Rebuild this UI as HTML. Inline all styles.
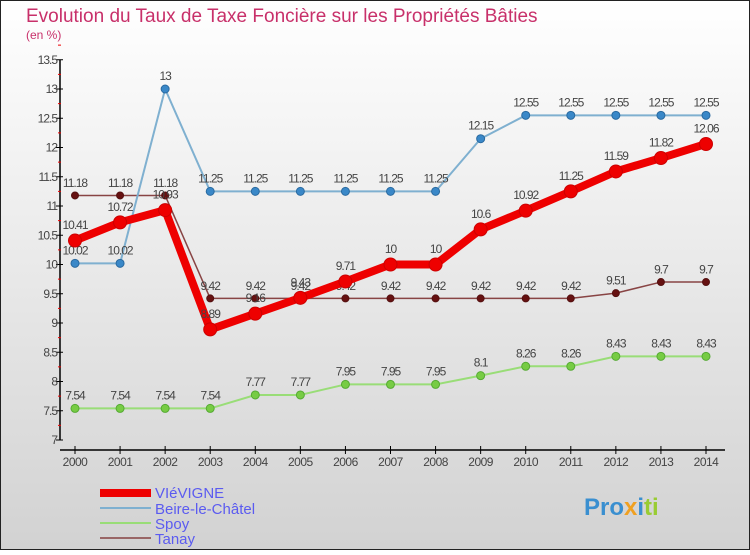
<!DOCTYPE html>
<html><head><meta charset="utf-8"><style>
body{margin:0;width:750px;height:550px;overflow:hidden;font-family:"Liberation Sans",sans-serif}
svg text{font-family:"Liberation Sans",sans-serif}
</style></head><body>
<svg id="c" width="750" height="550" xmlns="http://www.w3.org/2000/svg">
<defs><linearGradient id="bg" x1="0" y1="0" x2="0" y2="1"><stop offset="0" stop-color="#ffffff"/><stop offset="1" stop-color="#d2d2d2"/></linearGradient></defs>
<rect x="0.5" y="0.5" width="749" height="549" fill="url(#bg)" stroke="#222"/>
<text x="26" y="22" font-size="19" fill="#c8306a">Evolution du Taux de Taxe Foncière sur les Propriétés Bâties</text>
<text x="26" y="39" font-size="12" fill="#c8306a">(en %)</text>
<g id="axes"></g><g id="series"></g>
<g>
<rect x="100" y="489" width="51" height="8" fill="#e00"/>
<text x="155" y="498" font-size="15" fill="#5b5bf0">VIéVIGNE</text>
<rect x="100" y="507" width="51" height="2" fill="#7fb0d0"/>
<text x="155" y="514" font-size="15" fill="#5b5bf0">Beire-le-Châtel</text>
<rect x="100" y="522" width="51" height="2" fill="#99dd77"/>
<text x="155" y="529" font-size="15" fill="#5b5bf0">Spoy</text>
<rect x="100" y="537" width="51" height="2" fill="#996666"/>
<text x="155" y="544" font-size="15" fill="#5b5bf0">Tanay</text>
</g>
<text x="584" y="515" font-size="24" font-weight="bold"><tspan fill="#3a8fd0">Pro</tspan><tspan fill="#f0a020">x</tspan><tspan fill="#3a8fd0">i</tspan><tspan fill="#9c3">ti</tspan></text>
</svg>
<script>
const years=[2000,2001,2002,2003,2004,2005,2006,2007,2008,2009,2010,2011,2012,2013,2014];
const vievigne=[10.41,10.72,10.93,8.89,9.16,9.43,9.71,10,10,10.6,10.92,11.25,11.59,11.82,12.06];
const beire=[10.02,10.02,13,11.25,11.25,11.25,11.25,11.25,11.25,12.15,12.55,12.55,12.55,12.55,12.55];
const spoy=[7.54,7.54,7.54,7.54,7.77,7.77,7.95,7.95,7.95,8.1,8.26,8.26,8.43,8.43,8.43];
const tanay=[11.18,11.18,11.18,9.42,9.42,9.42,9.42,9.42,9.42,9.42,9.42,9.42,9.51,9.7,9.7];
const yTicks=[7,7.5,8,8.5,9,9.5,10,10.5,11,11.5,12,12.5,13,13.5];
const NS="http://www.w3.org/2000/svg";
function X(i){return 75+i*(706-75)/(years.length-1);}
function Y(v){return 440-(v-7)*58.5;}
function mk(t,a,p){const e=document.createElementNS(NS,t);for(const k in a)e.setAttribute(k,a[k]);p.appendChild(e);return e;}
const ax=document.getElementById('axes');
let l=mk('line',{x1:60,y1:Y(13.5),x2:60,y2:Y(7),stroke:'#000','stroke-width':1.5},ax);


yTicks.forEach(v=>{
 let t=mk('line',{x1:56,y1:Y(v),x2:63,y2:Y(v),stroke:'#000'},ax);
 
 
 let m=mk('line',{x1:58,y1:Y(v+0.25),x2:61,y2:Y(v+0.25),stroke:'#e00'},ax);
 
 
 let tx=mk('text',{x:57,y:Y(v)+4,'font-size':12,'text-anchor':'end',fill:'#444','letter-spacing':'-1'},ax);
 tx.textContent=String(v);
 
 
});
let xl=mk('line',{x1:60,y1:450,x2:725,y2:450,stroke:'#000','stroke-width':1.5},ax);


years.forEach((y,i)=>{
 let t=mk('line',{x1:X(i),y1:446,x2:X(i),y2:454,stroke:'#000'},ax);
 
 
 let tx=mk('text',{x:X(i),y:466,'font-size':12,'text-anchor':'middle',fill:'#444','letter-spacing':'-0.5'},ax);
 tx.textContent=String(y);
 
 
});
const sg=document.getElementById('series');
function series(name,data,color,lw,r,dot,stroke){
 const g=mk('g',{},sg);
 
 
 const p=mk('polyline',{points:data.map((v,i)=>X(i)+','+Y(v)).join(' '),fill:'none',stroke:color,'stroke-width':lw,'stroke-linejoin':'round'},g);
 
 
 data.forEach((v,i)=>{
  const c=mk('circle',{cx:X(i),cy:Y(v),r:r,fill:dot,stroke:stroke,'stroke-width':1},g);
  
  
  const t=mk('text',{x:X(i),y:Y(v)-(r+5),'font-size':12,'text-anchor':'middle',fill:'#444','letter-spacing':'-1'},g);
  t.textContent=String(v);
  
  
 });
}
series('spoy',spoy,'#99dd77',2,4,'#77cc44','#55aa33');
series('tanay',tanay,'#884444',1.5,3.5,'#661111','#551111');
series('beire',beire,'#7fb0d0',2,4,'#3a88c8','#2a6aa0');
series('vievigne',vievigne,'#ee0000',8,6.5,'#ee0000','#cc0000');
</script>
</body></html>
